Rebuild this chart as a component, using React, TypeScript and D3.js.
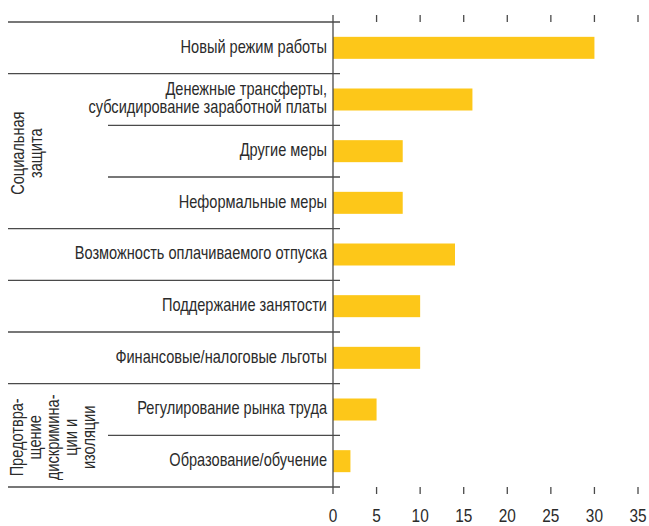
import React from "react";
import * as d3 from "d3";

const categories: string[][] = [
  ["Новый режим работы"],
  ["Денежные трансферты,", "субсидирование заработной платы"],
  ["Другие меры"],
  ["Неформальные меры"],
  ["Возможность оплачиваемого отпуска"],
  ["Поддержание занятости"],
  ["Финансовые/налоговые льготы"],
  ["Регулирование рынка труда"],
  ["Образование/обучение"],
];
const values: number[] = [30, 16, 8, 8, 14, 10, 10, 5, 2];
const ticks: number[] = [0, 5, 10, 15, 20, 25, 30, 35];
// groups: start row, end row (inclusive), label lines
const groupStarts: number[] = [1, 7];
const groupEnds: number[] = [3, 8];
const groupLabels: string[][] = [
  ["Социальная", "защита"],
  ["Предотвра-", "щение", "дискримина-", "ции и", "изоляции"],
];

const W = 649;
const H = 526;
const FONT = "'Liberation Sans', Arial, sans-serif";
const SX = 0.81; // horizontal condensation
const TEXT = "#2b2b2b";
const LINE = "#4a4a4a";
const BAR = "#FDC719";

export default function App() {
  const x = d3.scaleLinear().domain([0, 35]).range([333, 638]);
  const idx = categories.map((_, i) => i);
  const y = d3.scaleBand<number>().domain(idx).range([22, 487]).padding(0);
  const barH = 22;
  const step = y.step();
  const boundaries = d3.range(categories.length + 1).map((i) => 22 + i * step);

  const isPartial = (b: number) =>
    groupStarts.some((s, g) => b > s && b <= groupEnds[g]);

  return (
    <svg
      width={W}
      height={H}
      style={{ position: "absolute", left: 0, top: 0, background: "#fff" }}
      fontFamily={FONT}
    >
      {/* separator lines */}
      {boundaries.map((yy, b) => (
        <line
          key={"sep" + b}
          x1={isPartial(b) ? 108 : 8}
          x2={340}
          y1={yy}
          y2={yy}
          stroke={LINE}
          strokeWidth={1.3}
        />
      ))}
      {/* bars */}
      {values.map((v, i) => (
        <rect
          key={"bar" + i}
          x={x(0)}
          y={(y(i) as number) + step / 2 - barH / 2}
          width={x(v) - x(0)}
          height={barH}
          fill={BAR}
        />
      ))}
      {/* axis */}
      <line x1={x(0)} x2={x(0)} y1={15} y2={494} stroke={LINE} strokeWidth={1.3} />
      {ticks.slice(1).map((t) => (
        <g key={"t" + t}>
          <line x1={x(t)} x2={x(t)} y1={15} y2={22} stroke={LINE} strokeWidth={1.3} />
          <line x1={x(t)} x2={x(t)} y1={487} y2={494} stroke={LINE} strokeWidth={1.3} />
        </g>
      ))}
      {ticks.map((t) => (
        <text
          key={"tl" + t}
          transform={`translate(${x(t)},522) scale(${SX},1)`}
          textAnchor="middle"
          fontSize={19}
          fill={TEXT}
        >
          {t}
        </text>
      ))}
      {/* category labels */}
      {categories.map((lines, i) => {
        const cy = (y(i) as number) + step / 2;
        const lh = 18;
        const y0 = cy - ((lines.length - 1) * lh) / 2 - 1.5;
        return (
          <g key={"cl" + i}>
            {lines.map((l, k) => (
              <text
                key={k}
                transform={`translate(327,${y0 + k * lh}) scale(${SX},1)`}
                textAnchor="end"
                dy="0.35em"
                fontSize={18}
                fill={TEXT}
              >
                {l}
              </text>
            ))}
          </g>
        );
      })}
      {/* group labels */}
      {groupLabels.map((lines, g) => {
        const top = boundaries[groupStarts[g]];
        const bot = boundaries[groupEnds[g] + 1];
        const cy = (top + bot) / 2 + 2;
        const lh = 18;
        const firstBase = g === 0 ? 24 : 23;
        return (
          <g key={"gl" + g}>
            {lines.map((l, k) => (
              <text
                key={k}
                transform={`translate(${firstBase + k * lh},${cy}) rotate(-90) scale(${SX},1)`}
                textAnchor="middle"
                fontSize={18}
                fill={TEXT}
              >
                {l}
              </text>
            ))}
          </g>
        );
      })}
    </svg>
  );
}
